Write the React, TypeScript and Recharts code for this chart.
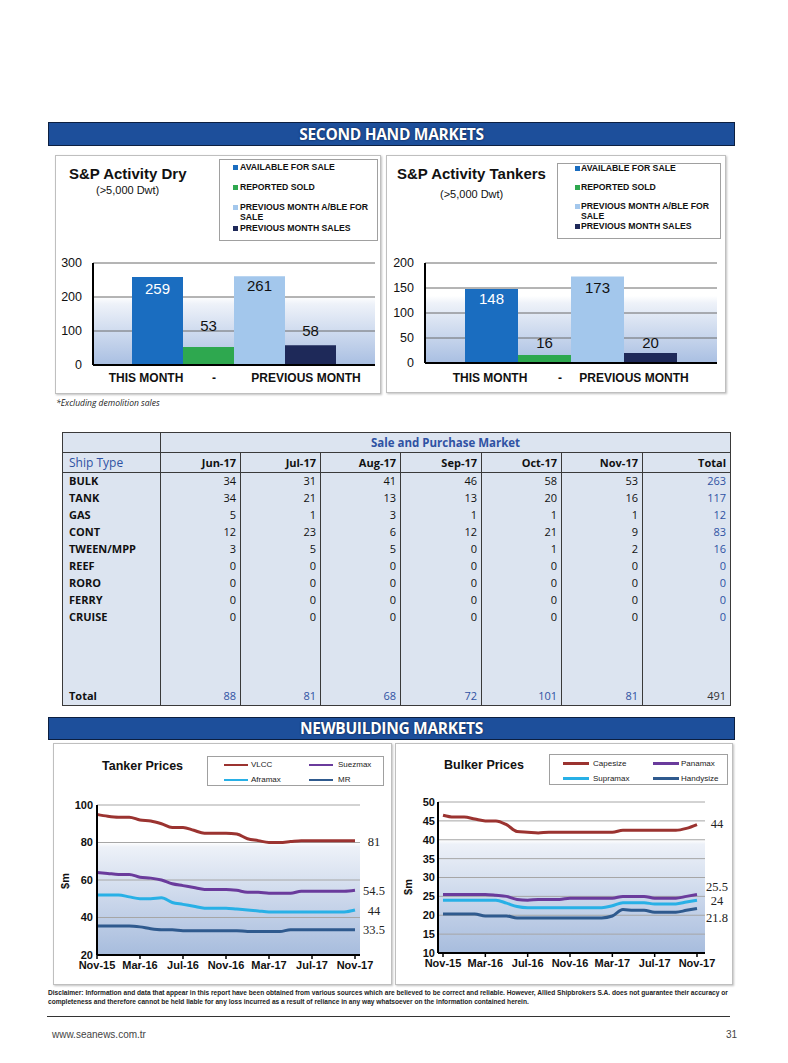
import React from "react";
import {
  BarChart,
  Bar,
  XAxis,
  YAxis,
  CartesianGrid,
  LabelList,
  LineChart,
  Line,
} from "recharts";

// S&P activity (second hand)
const barSeries = [
  "AVAILABLE FOR SALE",
  "REPORTED SOLD",
  "PREVIOUS MONTH A/BLE FOR SALE",
  "PREVIOUS MONTH SALES",
];
const barKeys = ["available", "sold", "prevAvailable", "prevSold"];
const barColors = ["#1a6dc0", "#2ea84f", "#a3c7ec", "#1e2959"];
const barCategoryLabels = ["THIS MONTH", "-", "PREVIOUS MONTH"];
const dryActivity = [259, 53, 261, 58];
const tankerActivity = [148, 16, 173, 20];

// Sale and purchase table
const tableMonths = ["Jun-17", "Jul-17", "Aug-17", "Sep-17", "Oct-17", "Nov-17"];
const shipTypes = ["BULK", "TANK", "GAS", "CONT", "TWEEN/MPP", "REEF", "RORO", "FERRY", "CRUISE"];
const shipCounts = [
  [34, 31, 41, 46, 58, 53],
  [34, 21, 13, 13, 20, 16],
  [5, 1, 3, 1, 1, 1],
  [12, 23, 6, 12, 21, 9],
  [3, 5, 5, 0, 1, 2],
  [0, 0, 0, 0, 0, 0],
  [0, 0, 0, 0, 0, 0],
  [0, 0, 0, 0, 0, 0],
  [0, 0, 0, 0, 0, 0],
];
const shipTotals = [263, 117, 12, 83, 16, 0, 0, 0, 0];
const monthTotals = [88, 81, 68, 72, 101, 81];
const grandTotal = 491;

// Newbuilding prices ($m)
const priceMonths = [
  "Nov-15", "Dec-15", "Jan-16", "Feb-16", "Mar-16", "Apr-16", "May-16", "Jun-16", "Jul-16",
  "Aug-16", "Sep-16", "Oct-16", "Nov-16", "Dec-16", "Jan-17", "Feb-17", "Mar-17", "Apr-17",
  "May-17", "Jun-17", "Jul-17", "Aug-17", "Sep-17", "Oct-17", "Nov-17",
];
const vlcc = [95, 94, 93.5, 93.5, 92, 91.5, 90, 88, 88, 86.5, 85, 85, 85, 84.5, 82, 81, 80, 80, 80.5, 81, 81, 81, 81, 81, 81];
const suezmax = [64, 63.5, 63, 63, 61.5, 61, 60, 58, 57, 56, 55, 55, 55, 54.5, 53.5, 53.5, 53, 53, 53, 54, 54, 54, 54, 54, 54.5];
const aframax = [52, 52, 52, 51, 50, 50, 50.5, 48, 47, 46, 45, 45, 45, 44.5, 44, 43.5, 43, 43, 43, 43, 43, 43, 43, 43, 44];
const mr = [35.5, 35.5, 35.5, 35.5, 35, 34, 33.5, 33.5, 33, 33, 33, 33, 33, 33, 32.5, 32.5, 32.5, 32.5, 33.5, 33.5, 33.5, 33.5, 33.5, 33.5, 33.5];
const capesize = [46.5, 46, 46, 45.5, 45, 45, 44, 42.2, 42, 41.8, 42, 42, 42, 42, 42, 42, 42, 42.5, 42.5, 42.5, 42.5, 42.5, 42.5, 43, 44];
const panamax = [25.5, 25.5, 25.5, 25.5, 25.5, 25.3, 25, 24.2, 24, 24.2, 24.2, 24.2, 24.5, 24.5, 24.5, 24.5, 24.5, 25, 25, 25, 24.5, 24.5, 24.5, 25, 25.5];
const supramax = [24, 24, 24, 24, 24, 24, 23.2, 22.3, 22, 22, 22, 22, 22, 22, 22, 22, 22.5, 23.3, 23.3, 23.3, 23, 23, 23, 23.5, 24];
const handysize = [20.3, 20.3, 20.3, 20.3, 19.8, 19.8, 19.8, 19.3, 19.3, 19.3, 19.3, 19.3, 19.3, 19.3, 19.3, 19.3, 19.8, 21.5, 21.3, 21.3, 20.8, 20.8, 20.8, 21.3, 21.8];
const tankerNames = ["VLCC", "Suezmax", "Aframax", "MR"];
const bulkerNames = ["Capesize", "Panamax", "Supramax", "Handysize"];
const lineColors = ["#9b3330", "#6a3b9c", "#28b0e6", "#2f5a8e"];

const SANS = "'Liberation Sans', Arial, sans-serif";
const BLUE_TXT = "#2f52a3";

const boxStyle = (left: number, top: number, width: number, height: number): React.CSSProperties => ({
  position: "absolute",
  left,
  top,
  width,
  height,
  boxSizing: "border-box",
  border: "1px solid #bfbfbf",
  boxShadow: "1px 1px 2px rgba(0,0,0,0.25)",
  background: "#fff",
});

function Banner({ top, height, text }: { top: number; height: number; text: string }) {
  return (
    <div
      style={{
        position: "absolute",
        left: 48,
        top,
        width: 687,
        height,
        boxSizing: "border-box",
        background: "#1d4f9b",
        border: "1px solid #0c1f40",
        color: "#fff",
        fontFamily: "'Open Sans', sans-serif",
        fontWeight: 700,
        fontSize: 15.5,
        letterSpacing: -0.3,
        lineHeight: `${height - 2}px`,
        textAlign: "center",
        textShadow: "0 0 2px #0a1a3a",
      }}
    >
      {text}
    </div>
  );
}

const CategoryTick = ({ x, y, offsets, dy }: any) => (
  <g>
    {barCategoryLabels.map((t, i) => (
      <text
        key={t}
        x={x + offsets[i]}
        y={y + dy}
        textAnchor="middle"
        fontFamily={SANS}
        fontWeight="bold"
        fontSize={12}
        fill="#111"
      >
        {t}
      </text>
    ))}
  </g>
);

type LabelCfg = { position: "insideTop" | "top"; offset: number; fill: string };

function ActivityChart(props: {
  id: string;
  values: number[];
  left: number;
  top: number;
  width: number;
  height: number;
  marginTop: number;
  marginRight: number;
  yWidth: number;
  xHeight: number;
  barSize: number;
  max: number;
  ticks: number[];
  tickOffsets: number[];
  tickDy: number;
  labels: LabelCfg[];
}) {
  const p = props;
  const row: any = { name: barCategoryLabels.join(" ") };
  barKeys.forEach((k, i) => (row[k] = p.values[i]));
  return (
    <div style={{ position: "absolute", left: p.left, top: p.top }}>
      <BarChart
        width={p.width}
        height={p.height}
        data={[row]}
        barGap={0}
        margin={{ top: p.marginTop, right: p.marginRight, bottom: 0, left: 0 }}
      >
        <defs>
          <linearGradient id={p.id} x1="0" y1="0" x2="0" y2="1">
            <stop offset="0%" stopColor="#ffffff" />
            <stop offset="33%" stopColor="#ffffff" />
            <stop offset="40%" stopColor="#eef2f9" />
            <stop offset="100%" stopColor="#a9bfe2" />
          </linearGradient>
        </defs>
        <CartesianGrid vertical={false} stroke="#6b6b6b" fill={`url(#${p.id})`} fillOpacity={1} />
        <XAxis
          dataKey="name"
          height={p.xHeight}
          axisLine={{ stroke: "#000", strokeWidth: 2 }}
          tickLine={false}
          tickSize={0}
          tickMargin={0}
          tick={(tp: any) => <CategoryTick {...tp} offsets={p.tickOffsets} dy={p.tickDy} />}
        />
        <XAxis
          xAxisId="top"
          orientation="top"
          height={0}
          tick={false}
          tickLine={false}
          axisLine={{ stroke: "#000", strokeWidth: 2 }}
        />
        <YAxis
          width={p.yWidth}
          domain={[0, p.max]}
          ticks={p.ticks}
          interval={0}
          tickLine={false}
          tickSize={0}
          tickMargin={11}
          axisLine={{ stroke: "#000", strokeWidth: 2 }}
          tick={{ fontFamily: SANS, fontSize: 12.5, fill: "#111" }}
        />
        <YAxis
          yAxisId="right"
          orientation="right"
          width={0}
          tick={false}
          tickLine={false}
          axisLine={{ stroke: "#000", strokeWidth: 2 }}
        />
        {barKeys.map((k, i) => (
          <Bar key={k} dataKey={k} fill={barColors[i]} barSize={p.barSize} isAnimationActive={false}>
            <LabelList
              dataKey={k}
              position={p.labels[i].position}
              offset={p.labels[i].offset}
              fill={p.labels[i].fill}
              fontSize={15}
              fontFamily={SANS}
            />
          </Bar>
        ))}
      </BarChart>
    </div>
  );
}

function BarLegend(props: { left: number; top: number; width: number; height: number; itemTops: number[]; markX: number; textX: number }) {
  const p = props;
  return (
    <div
      style={{
        position: "absolute",
        left: p.left,
        top: p.top,
        width: p.width,
        height: p.height,
        boxSizing: "border-box",
        border: "1px solid #a0a0a0",
        background: "#fff",
        fontFamily: SANS,
        fontWeight: 700,
        fontSize: 8.7,
        lineHeight: "10px",
        color: "#111",
      }}
    >
      {barSeries.map((s, i) => (
        <div key={s} style={{ position: "absolute", left: p.markX, top: p.itemTops[i] }}>
          <span
            style={{ position: "absolute", left: 0, top: 3, width: 5, height: 5, background: barColors[i] }}
          />
          <span style={{ position: "absolute", left: p.textX - p.markX, top: 0, width: 132 }}>{s}</span>
        </div>
      ))}
    </div>
  );
}

function LineLegend(props: {
  left: number;
  top: number;
  width: number;
  height: number;
  names: string[];
  swatchX: number[];
  swatchW: number;
  textX: number[];
  rowY: number[];
}) {
  const p = props;
  return (
    <div
      style={{
        position: "absolute",
        left: p.left,
        top: p.top,
        width: p.width,
        height: p.height,
        boxSizing: "border-box",
        border: "1px solid #a0a0a0",
        background: "#fff",
        fontFamily: SANS,
        fontSize: 8,
        color: "#222",
      }}
    >
      {p.names.map((n, i) => {
        const col = i % 2;
        const r = Math.floor(i / 2);
        return (
          <React.Fragment key={n}>
            <div
              style={{
                position: "absolute",
                left: p.swatchX[col],
                top: p.rowY[r] - 1.25,
                width: p.swatchW,
                height: 2.5,
                background: lineColors[i],
              }}
            />
            <div style={{ position: "absolute", left: p.textX[col], top: p.rowY[r] - 5, lineHeight: "10px" }}>{n}</div>
          </React.Fragment>
        );
      })}
    </div>
  );
}

function PriceChart(props: {
  id: string;
  series: number[][];
  left: number;
  top: number;
  width: number;
  height: number;
  margin: { top: number; right: number; bottom: number; left: number };
  yWidth: number;
  xHeight: number;
  domain: [number, number];
  ticks: number[];
  padding: { left: number; right: number };
  yTickMargin: number;
  endDx: number;
  endDy: number[];
}) {
  const p = props;
  const data = priceMonths.map((m, i) => {
    const row: any = { month: m };
    p.series.forEach((s, j) => (row[`s${j}`] = s[i]));
    return row;
  });
  const last = priceMonths.length - 1;
  return (
    <div style={{ position: "absolute", left: p.left, top: p.top }}>
      <LineChart width={p.width} height={p.height} data={data} margin={p.margin}>
        <defs>
          <linearGradient id={p.id} x1="0" y1="0" x2="0" y2="1">
            <stop offset="0%" stopColor="#ffffff" />
            <stop offset="25%" stopColor="#ffffff" />
            <stop offset="28%" stopColor="#edf1f8" />
            <stop offset="100%" stopColor="#a7bcdd" />
          </linearGradient>
        </defs>
        <CartesianGrid vertical={false} stroke="#a6a6a6" fill={`url(#${p.id})`} fillOpacity={1} />
        <XAxis
          dataKey="month"
          height={p.xHeight}
          interval={3}
          padding={p.padding}
          tickSize={4}
          tickMargin={2}
          axisLine={{ stroke: "#000", strokeWidth: 2 }}
          tickLine={{ stroke: "#000", strokeWidth: 1.5 }}
          tick={{ fontFamily: SANS, fontWeight: "bold", fontSize: 11, fill: "#111" }}
        />
        <YAxis
          width={p.yWidth}
          domain={p.domain}
          ticks={p.ticks}
          interval={0}
          tickLine={false}
          tickSize={0}
          tickMargin={p.yTickMargin}
          axisLine={{ stroke: "#000", strokeWidth: 2 }}
          tick={{ fontFamily: SANS, fontWeight: "bold", fontSize: 11, fill: "#111" }}
        />
        <YAxis
          yAxisId="right"
          orientation="right"
          width={0}
          tick={false}
          tickLine={false}
          axisLine={{ stroke: "#a6a6a6", strokeWidth: 1 }}
        />
        {p.series.map((_, j) => (
          <Line
            key={j}
            type="monotone"
            dataKey={`s${j}`}
            stroke={lineColors[j]}
            strokeWidth={3}
            dot={false}
            isAnimationActive={false}
          >
            <LabelList
              dataKey={`s${j}`}
              content={(lp: any) => {
                if (lp.index !== last) return null;
                const x = lp.viewBox?.x ?? lp.x;
                const y = lp.viewBox?.y ?? lp.y;
                return (
                  <text
                    x={x + p.endDx}
                    y={y + p.endDy[j]}
                    textAnchor="middle"
                    dominantBaseline="central"
                    fontFamily="'Liberation Serif', serif"
                    fontSize={12.5}
                    fill="#222"
                  >
                    {lp.value}
                  </text>
                );
              }}
            />
          </Line>
        ))}
      </LineChart>
    </div>
  );
}

function SaleTable() {
  const colW = [98, 80, 80, 80, 81, 80, 81, 88];
  const border = "1px solid #3a3a3a";
  const base: React.CSSProperties = {
    borderLeft: border,
    borderRight: border,
    padding: "0 4px",
    whiteSpace: "nowrap",
    overflow: "hidden",
  };
  const num: React.CSSProperties = { ...base, textAlign: "right" };
  const name: React.CSSProperties = { ...base, paddingLeft: 6, fontWeight: 700, color: "#111" };
  return (
    <table
      style={{
        position: "absolute",
        left: 62,
        top: 432,
        width: 668,
        borderCollapse: "collapse",
        tableLayout: "fixed",
        background: "#dce4f0",
        border,
        fontFamily: "'Open Sans', sans-serif",
        fontSize: 11,
        lineHeight: "14px",
        color: "#111",
      }}
    >
      <colgroup>
        {colW.map((w, i) => (
          <col key={i} style={{ width: w }} />
        ))}
      </colgroup>
      <tbody>
        <tr style={{ height: 20 }}>
          <td style={{ ...base, borderBottom: border }} />
          <td
            colSpan={7}
            style={{ ...base, borderBottom: border, textAlign: "center", fontWeight: 700, color: BLUE_TXT, fontSize: 11.5 }}
          >
            Sale and Purchase Market
          </td>
        </tr>
        <tr style={{ height: 20 }}>
          <td style={{ ...base, paddingLeft: 6, borderBottom: border, color: BLUE_TXT, fontSize: 12 }}>Ship Type</td>
          {tableMonths.map((m) => (
            <td key={m} style={{ ...num, borderBottom: border, fontWeight: 700 }}>
              {m}
            </td>
          ))}
          <td style={{ ...num, borderBottom: border, fontWeight: 700 }}>Total</td>
        </tr>
        {shipTypes.map((t, r) => (
          <tr key={t} style={{ height: 17 }}>
            <td style={name}>{t}</td>
            {shipCounts[r].map((v, c) => (
              <td key={c} style={num}>
                {v}
              </td>
            ))}
            <td style={{ ...num, color: BLUE_TXT }}>{shipTotals[r]}</td>
          </tr>
        ))}
        <tr style={{ height: 62 }}>
          {colW.map((_, i) => (
            <td key={i} style={base} />
          ))}
        </tr>
        <tr style={{ height: 18 }}>
          <td style={name}>Total</td>
          {monthTotals.map((v, c) => (
            <td key={c} style={{ ...num, color: BLUE_TXT }}>
              {v}
            </td>
          ))}
          <td style={{ ...num, color: "#333" }}>{grandTotal}</td>
        </tr>
      </tbody>
    </table>
  );
}

const textAt = (left: number, top: number, style: React.CSSProperties): React.CSSProperties => ({
  position: "absolute",
  left,
  top,
  whiteSpace: "nowrap",
  ...style,
});

export default function App() {
  const titleStyle: React.CSSProperties = { fontFamily: SANS, fontWeight: 700, fontSize: 15, lineHeight: "15px", color: "#111" };
  const subStyle: React.CSSProperties = { fontFamily: SANS, fontSize: 11, lineHeight: "11px", color: "#111" };
  const priceTitle: React.CSSProperties = { fontFamily: SANS, fontWeight: 700, fontSize: 12.5, lineHeight: "12.5px", color: "#111" };
  const axisTitle: React.CSSProperties = {
    fontFamily: SANS,
    fontWeight: 700,
    fontSize: 11,
    lineHeight: "11px",
    transform: "translate(-50%, -50%) rotate(-90deg)",
    color: "#111",
  };
  return (
    <div style={{ position: "absolute", left: 0, top: 0, width: 788, height: 1063, background: "#fff", overflow: "hidden" }}>
      <Banner top={122} height={24} text="SECOND HAND MARKETS" />

      <div style={boxStyle(55, 155, 326, 239)} />
      <div style={boxStyle(386, 155, 340, 238)} />

      <ActivityChart
        id="dryBg"
        values={dryActivity}
        left={56}
        top={155}
        width={324}
        height={240}
        marginTop={108}
        marginRight={5}
        yWidth={37}
        xHeight={30}
        barSize={51}
        max={300}
        ticks={[0, 100, 200, 300]}
        tickOffsets={[-88, -20, 72]}
        tickDy={17}
        labels={[
          { position: "insideTop", offset: 6, fill: "#fff" },
          { position: "top", offset: 16, fill: "#111" },
          { position: "insideTop", offset: 4, fill: "#111" },
          { position: "top", offset: 9, fill: "#111" },
        ]}
      />
      <ActivityChart
        id="tankBarBg"
        values={tankerActivity}
        left={387}
        top={155}
        width={338}
        height={240}
        marginTop={108}
        marginRight={8}
        yWidth={38}
        xHeight={32}
        barSize={53}
        max={200}
        ticks={[0, 50, 100, 150, 200]}
        tickOffsets={[-81, -11, 63]}
        tickDy={19}
        labels={[
          { position: "insideTop", offset: 4, fill: "#fff" },
          { position: "top", offset: 7, fill: "#111" },
          { position: "insideTop", offset: 6, fill: "#111" },
          { position: "top", offset: 5, fill: "#111" },
        ]}
      />

      <div style={textAt(69, 166, titleStyle)}>S&amp;P Activity Dry</div>
      <div style={textAt(96, 184.5, subStyle)}>(&gt;5,000 Dwt)</div>
      <div style={textAt(397, 166, titleStyle)}>S&amp;P Activity Tankers</div>
      <div style={textAt(440, 188.5, subStyle)}>(&gt;5,000 Dwt)</div>

      <BarLegend left={219} top={159} width={159} height={82} itemTops={[1.7, 22, 42, 63]} markX={13} textX={20} />
      <BarLegend left={557} top={163} width={164} height={76} itemTops={[-1, 18, 37, 57]} markX={17} textX={23} />

      <div style={textAt(56, 398, { fontFamily: "'Open Sans', sans-serif", fontStyle: "italic", fontSize: 8.5, lineHeight: "10px", color: "#222" })}>
        *Excluding demolition sales
      </div>

      <SaleTable />

      <Banner top={717} height={23} text="NEWBUILDING MARKETS" />

      <div style={boxStyle(53, 743, 339, 242)} />
      <div style={boxStyle(395, 743, 338, 242)} />

      <PriceChart
        id="tankPriceBg"
        series={[vlcc, suezmax, aframax, mr]}
        left={53}
        top={743}
        width={338}
        height={242}
        margin={{ top: 62, right: 31, bottom: 0, left: 0 }}
        yWidth={44}
        xHeight={30}
        domain={[20, 100]}
        ticks={[20, 40, 60, 80, 100]}
        padding={{ left: 0, right: 5 }}
        yTickMargin={4}
        endDx={19}
        endDy={[1, 0.5, 1, 0.5]}
      />
      <PriceChart
        id="bulkPriceBg"
        series={[capesize, panamax, supramax, handysize]}
        left={395}
        top={743}
        width={338}
        height={242}
        margin={{ top: 59, right: 28, bottom: 0, left: 0 }}
        yWidth={43}
        xHeight={32}
        domain={[10, 50]}
        ticks={[10, 15, 20, 25, 30, 35, 40, 45, 50]}
        padding={{ left: 5, right: 8 }}
        yTickMargin={3}
        endDx={20}
        endDy={[-1, -7, 1, 10]}
      />

      <div style={textAt(102, 760, priceTitle)}>Tanker Prices</div>
      <div style={textAt(444, 758.5, priceTitle)}>Bulker Prices</div>
      <div style={textAt(65, 881, axisTitle)}>$m</div>
      <div style={textAt(408, 887, axisTitle)}>$m</div>

      <LineLegend
        left={207}
        top={756}
        width={177}
        height={30}
        names={tankerNames}
        swatchX={[16, 101]}
        swatchW={24}
        textX={[43, 130]}
        rowY={[8, 23]}
      />
      <LineLegend
        left={549}
        top={754}
        width={179}
        height={31}
        names={bulkerNames}
        swatchX={[13, 103]}
        swatchW={26}
        textX={[43, 131]}
        rowY={[8.7, 23.7]}
      />

      <div
        style={{
          position: "absolute",
          left: 48,
          top: 989,
          width: 700,
          fontFamily: SANS,
          fontWeight: 700,
          fontSize: 6.6,
          lineHeight: "8.5px",
          color: "#222",
          whiteSpace: "nowrap",
        }}
      >
        Disclaimer: Information and data that appear in this report have been obtained from various sources which are believed to be
        correct and reliable. However, Allied Shipbrokers S.A. does not guarantee their accuracy or
        <br />
        completeness and therefore cannot be held liable for any loss incurred as a result of reliance in any way whatsoever on the information contained herein.
      </div>
      <div style={{ position: "absolute", left: 47, top: 1016, width: 683, height: 1, background: "#333" }} />
      <div style={textAt(52, 1029, { fontFamily: SANS, fontSize: 10, lineHeight: "12px", color: "#444" })}>www.seanews.com.tr</div>
      <div style={textAt(726, 1029, { fontFamily: SANS, fontSize: 10, lineHeight: "12px", color: "#444" })}>31</div>
    </div>
  );
}
